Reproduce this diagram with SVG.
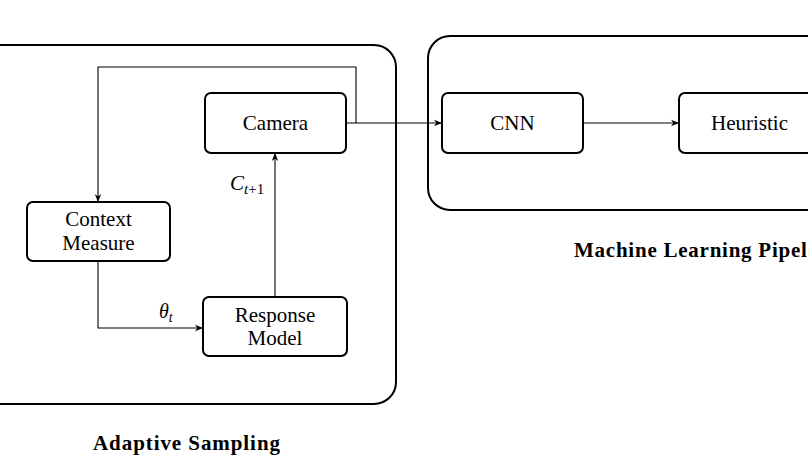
<svg xmlns="http://www.w3.org/2000/svg" width="808" height="455" viewBox="0 0 808 455">
<defs>
<marker id="arr" viewBox="0 0 10 10" refX="10" refY="5" markerWidth="8" markerHeight="8" markerUnits="userSpaceOnUse" orient="auto">
<path d="M0,1 L10,5 L0,9 L3,5 Z" fill="#000"/>
</marker>
</defs>
<style>
.grp{fill:none;stroke:#000;stroke-width:2}
.node rect{fill:#fff;stroke:#000;stroke-width:2}
.node text,.lbl{font-family:"Liberation Serif","DejaVu Serif",serif;font-size:21px;fill:#000;text-anchor:middle}
.math{font-family:"Liberation Serif","DejaVu Serif",serif;font-style:italic;fill:#000}
.cap{font-family:"Liberation Serif","DejaVu Serif",serif;font-weight:bold;font-size:21px;fill:#000}
.conn path{fill:none;stroke:#000;stroke-width:1.1}
</style>
<rect class="grp" x="-40" y="45" width="436" height="359" rx="22"/>
<rect class="grp" x="428" y="36" width="420" height="174" rx="22"/>
<text class="cap" x="93" y="450" textLength="187" lengthAdjust="spacing">Adaptive Sampling</text>
<text class="cap" x="574" y="257" textLength="262" lengthAdjust="spacing">Machine Learning Pipeline</text>
<g class="conn" id="connectors">
<path d="M346,123 H442" marker-end="url(#arr)"/>
<path d="M356,123 V67 H98 V202" marker-end="url(#arr)"/>
<path d="M98,261 V328 H203" marker-end="url(#arr)"/>
<path d="M275,297 V153" marker-end="url(#arr)"/>
<path d="M583,123 H679" marker-end="url(#arr)"/>
</g>
<text class="math" x="159" y="318" font-size="20">θ<tspan font-size="14" dy="4">t</tspan></text>
<text class="math" x="230" y="190" font-size="21">C<tspan font-size="15" dy="4">t</tspan><tspan font-size="15" font-style="normal">+1</tspan></text>
<g class="node" id="camera">
<rect x="205" y="93" width="141" height="60" rx="6"/>
<text x="275.5" y="130">Camera</text>
</g>
<g class="node" id="context">
<rect x="27" y="202" width="143" height="59" rx="6"/>
<text x="98.5" y="226">Context</text>
<text x="98.5" y="250">Measure</text>
</g>
<g class="node" id="response">
<rect x="203" y="297" width="144" height="59" rx="6"/>
<text x="275" y="322">Response</text>
<text x="275" y="345">Model</text>
</g>
<g class="node" id="cnn">
<rect x="442" y="93" width="141" height="60" rx="6"/>
<text x="512.5" y="130">CNN</text>
</g>
<g class="node" id="heuristic">
<rect x="679" y="93" width="141" height="60" rx="6"/>
<text x="749.5" y="130">Heuristic</text>
</g>
</svg>
